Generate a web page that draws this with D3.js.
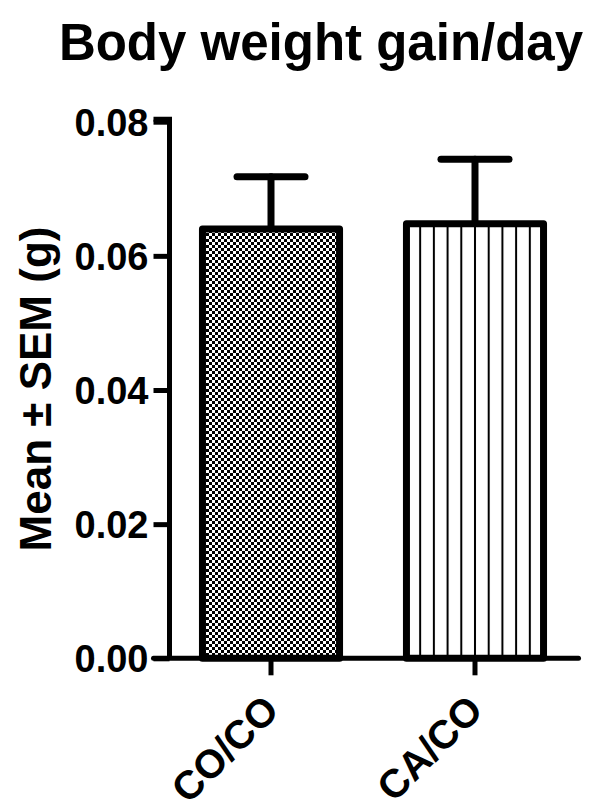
<!DOCTYPE html>
<html><head><meta charset="utf-8">
<script src="https://cdn.jsdelivr.net/npm/d3@7"></script>
<style>body{margin:0;background:#fff}svg{display:block}text{font-family:"Liberation Sans",Arial,sans-serif;font-weight:bold;fill:#000}</style>
</head><body>
<svg id="c" width="600" height="812"></svg>
<script>
const categories = ["CO/CO", "CA/CO"];
const means = [0.0640, 0.0648];
const sems = [0.0078, 0.0096];
const yTicks = [0, 0.02, 0.04, 0.06, 0.08];
const title = "Body weight gain/day";
const yLabel = "Mean ± SEM (g)";

const svg = d3.select("#c");
const pL = 169.5, pR = 576.5, pT = 121.7, pB = 658.3;
const y = d3.scaleLinear().domain([0, 0.08]).range([pB, pT]);
const x = d3.scaleBand().domain(categories).range([pL, pR]).paddingInner(0.328).paddingOuter(0.1616);

const defs = svg.append("defs");
const cs = 3;
const chk = defs.append("pattern").attr("id","chk").attr("patternUnits","userSpaceOnUse")
  .attr("width",cs*2).attr("height",cs*2).attr("x", Math.round(x(categories[0]))+4).attr("y", Math.round(y(means[0]))+4);
chk.append("rect").attr("width",cs*2).attr("height",cs*2).attr("fill","#fff");
chk.append("rect").attr("width",cs).attr("height",cs).attr("fill","#000");
chk.append("rect").attr("x",cs).attr("y",cs).attr("width",cs).attr("height",cs).attr("fill","#000");
const vw = x.bandwidth()/10;
const vl = defs.append("pattern").attr("id","vl").attr("patternUnits","userSpaceOnUse")
  .attr("width",vw).attr("height",10).attr("x", x(categories[1])).attr("y",0);
vl.append("rect").attr("width",vw).attr("height",10).attr("fill","#fff");
vl.append("rect").attr("x",-1).attr("width",2).attr("height",10).attr("fill","#000");
vl.append("rect").attr("x",vw-1).attr("width",2).attr("height",10).attr("fill","#000");
const fills = ["url(#chk)","url(#vl)"];

// error bars
const eb = svg.append("g").attr("stroke","#000").attr("stroke-width",7).attr("stroke-linecap","round");
categories.forEach((c,i)=>{
  const cx = x(c)+x.bandwidth()/2;
  eb.append("line").attr("x1",cx).attr("x2",cx).attr("y1",y(means[i])).attr("y2",y(means[i]+sems[i]));
  eb.append("line").attr("x1",cx-34).attr("x2",cx+34).attr("y1",y(means[i]+sems[i])).attr("y2",y(means[i]+sems[i]));
});

// bars
svg.append("g").selectAll("rect").data(categories).join("rect")
  .attr("x", d=>x(d)).attr("width", x.bandwidth())
  .attr("y", (d,i)=>y(means[i])).attr("height",(d,i)=>pB - y(means[i]))
  .attr("fill",(d,i)=>fills[i]).attr("stroke","#000").attr("stroke-width",7).attr("stroke-linejoin","round");

// y axis
const ya = svg.append("g").attr("transform",`translate(${pL},0)`)
  .call(d3.axisLeft(y).tickValues(yTicks).tickFormat(d3.format(".2f")).tickSize(16).tickSizeOuter(0).tickPadding(5));
ya.select(".domain").attr("stroke-width",5).attr("stroke","#000");
ya.selectAll(".tick line").attr("stroke-width",5).attr("stroke","#000");
ya.selectAll(".tick text").style("font-size","38px").attr("dy","0.36em");
ya.select(".domain").attr("d",`M0,${pB}V${pT-2.5}H-16`);

// x axis
const xa = svg.append("g").attr("transform",`translate(0,${pB})`)
  .call(d3.axisBottom(x).tickSize(17).tickSizeOuter(0).tickPadding(0));
xa.select(".domain").attr("d",`M${pL-16},0H${pR+2}`).attr("stroke-width",5).attr("stroke","#000").attr("stroke-linecap","round");
xa.selectAll(".tick line").attr("stroke-width",5).attr("stroke","#000");
xa.selectAll(".tick text").style("font-size","40px").attr("text-anchor","end")
  .attr("dy",0).attr("y",0).attr("transform","translate(10,54) rotate(-45)");

svg.append("text").attr("x",321).attr("y",60).attr("text-anchor","middle").style("font-size","51px").text(title);
svg.append("text").attr("transform",`translate(51,389) rotate(-90)`).attr("text-anchor","middle").style("font-size","44px").text(yLabel);
</script>
</body></html>
